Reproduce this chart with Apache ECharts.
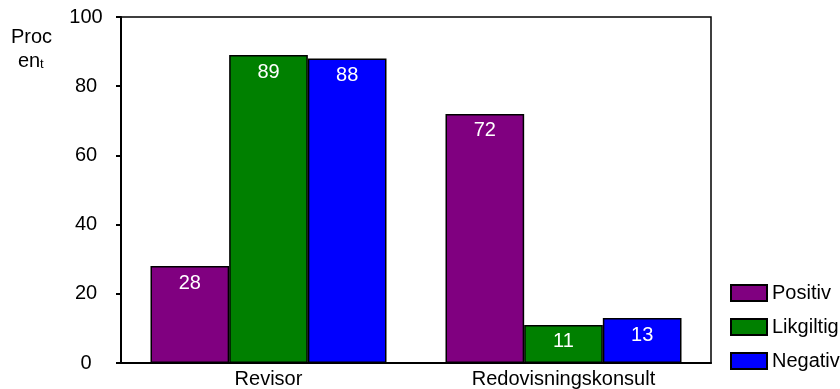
<!DOCTYPE html>
<html>
<head>
<meta charset="utf-8">
<script src="https://cdn.jsdelivr.net/npm/echarts@6/dist/echarts.min.js"></script>
<style>
  html, body { margin: 0; padding: 0; background: #fff; }
</style>
</head>
<body>
<div id="chart" style="width:840px;height:389px;"></div>
<script>
var categories = ["Revisor", "Redovisningskonsult"];
var positiv = [28, 72];
var likgiltig = [89, 11];
var negativ = [88, 13];
var yTicks = [0, 20, 40, 60, 80, 100];

var chart = echarts.init(document.getElementById("chart"));
var font = "'Liberation Sans', Arial, sans-serif";

function barSeries(name, data, color) {
  return {
    name: name,
    type: "bar",
    data: data,
    barGap: "0%",
    barCategoryGap: "20%",
    itemStyle: { color: color, borderColor: "#000", borderWidth: 1.5 },
    label: {
      show: true,
      position: "insideTop",
      distance: 7,
      color: "#fff",
      fontFamily: font,
      fontSize: 20
    }
  };
}

var option = {
  animation: false,
  grid: { left: 121, right: 129, top: 17, bottom: 26, show: true, borderColor: "#000", borderWidth: 1.5 },
  legend: {
    orient: "vertical",
    left: 725,
    top: 278,
    itemWidth: 36,
    itemHeight: 16,
    itemGap: 14,
    icon: "rect",
    textStyle: { color: "#000", fontFamily: font, fontSize: 20, lineHeight: 20 }
  },
  xAxis: {
    type: "category",
    data: categories,
    axisLine: { lineStyle: { color: "#000", width: 2 } },
    axisTick: { alignWithLabel: true, length: 4, lineStyle: { color: "#000", width: 2 } },
    axisLabel: { color: "#000", fontFamily: font, fontSize: 20, margin: 6 }
  },
  yAxis: {
    type: "value",
    min: yTicks[0],
    max: yTicks[yTicks.length - 1],
    interval: yTicks[1] - yTicks[0],
    splitLine: { show: false },
    axisLine: { show: true, lineStyle: { color: "#000", width: 2 } },
    axisTick: { show: true, length: 5, lineStyle: { color: "#000", width: 2 } },
    axisLabel: { color: "#000", fontFamily: font, fontSize: 20, margin: 35, align: "center" }
  },
  graphic: [
    { type: "text", left: 11, top: 27, style: { text: "Proc", fontFamily: font, fontSize: 20, fill: "#000" } },
    { type: "text", left: 18, top: 51, style: { text: "en", fontFamily: font, fontSize: 20, fill: "#000" } },
    { type: "text", left: 40, top: 58, style: { text: "t", fontFamily: font, fontSize: 13, fill: "#000" } }
  ],
  series: [
    barSeries("Positiv", positiv, "#800080"),
    barSeries("Likgiltig", likgiltig, "#008000"),
    barSeries("Negativ", negativ, "#0000ff")
  ]
};
chart.setOption(option);
</script>
</body>
</html>
